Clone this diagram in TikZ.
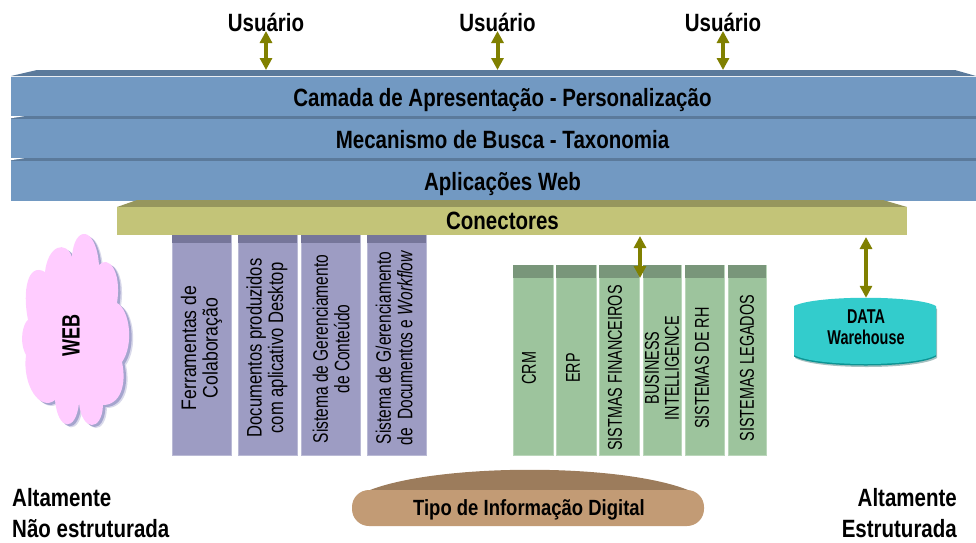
\documentclass[tikz,border=0pt]{standalone}
\usepackage{fontspec}
\setmainfont{Liberation Sans}
\newfontfamily\nfa[FakeStretch=0.82]{Liberation Sans}
\newfontfamily\nfc[FakeStretch=0.72]{Liberation Sans}
\newfontfamily\nfd[FakeStretch=0.84]{Liberation Sans}
\newfontfamily\nfe[FakeStretch=0.79]{Liberation Sans}
\newfontfamily\nff[FakeStretch=0.74]{Liberation Sans}
\usetikzlibrary{arrows.meta}
\definecolor{bluebody}{HTML}{7299C2}
\definecolor{bluetop}{HTML}{5B7A9B}
\definecolor{oliveA}{HTML}{C3C478}
\definecolor{oliveB}{HTML}{96965D}
\definecolor{purpA}{HTML}{9D9CC3}
\definecolor{purpB}{HTML}{76769A}
\definecolor{greenA}{HTML}{9DC49D}
\definecolor{greenB}{HTML}{79967A}
\definecolor{tealA}{HTML}{33CCCC}
\definecolor{brownA}{HTML}{C29B75}
\definecolor{brownB}{HTML}{9C7C5C}
\definecolor{arrowc}{HTML}{808000}
\definecolor{cloudc}{HTML}{FFCCFF}
\tikzset{
  big/.style={font=\fontsize{25}{28}\selectfont\nfa\bfseries,text=black,inner sep=0pt,anchor=base},
  bluebar/.style={fill=bluebody,minimum width=965pt,minimum height=40pt,inner sep=0pt},
  vbar/.style={inner sep=0pt,align=center,rotate=90},
  gbar/.style={inner sep=0pt,font=\fontsize{20}{20}\selectfont\nfc,align=center,rotate=90},
  purple/.style={fill=purpA,draw=purpA!70!white,line width=0.6pt},
  greenb/.style={fill=greenA,draw=greenA!70!white,line width=0.6pt},
  link/.style={draw=arrowc,line width=4pt,{Triangle[width=12pt,length=12pt,fill=arrowc]}-{Triangle[width=12pt,length=12pt,fill=arrowc]}},
}
\def\cloudpath{(99,265) .. controls (108,255) and (122,270) .. (117,303)
  .. controls (130,310) and (134,345) .. (122,362)
  .. controls (127,385) and (120,405) .. (103,405)
  .. controls (102,432) and (82,432) .. (79,403)
  .. controls (76,432) and (58,432) .. (55,400)
  .. controls (40,412) and (22,385) .. (26,355)
  .. controls (18,340) and (24,322) .. (28,320)
  .. controls (22,290) and (28,262) .. (45,272)
  .. controls (48,245) and (66,240) .. (72,257)
  .. controls (74,225) and (96,225) .. (99,265) -- cycle}
\def\dwpath{(794,306) .. controls (815,295) and (917,295) .. (936,306) -- (936,355) .. controls (917,367) and (815,367) .. (794,355) -- cycle}
\begin{document}
\begin{tikzpicture}[x=1pt,y=-1pt]
\useasboundingbox (0,0) rectangle (976,542);
% blue stack
\fill[bluetop] (11,76) -- (37,70) -- (955,70) -- (976,76) -- cycle;
\node[bluebar] (cam) at (493.5,96.5) {};
\fill[bluetop] (11,116) rectangle (976,118.5);
\fill[white] (11,116.2) -- (24,116.2) -- (11,118.2) -- cycle;
\node[bluebar] (busca) at (493.5,138.5) {};
\fill[bluetop] (11,158) rectangle (976,160.5);
\fill[white] (11,158.2) -- (24,158.2) -- (11,160.2) -- cycle;
\node[bluebar] (apl) at (493.5,180.5) {};
\node[big] at (502.5,106) (camt) {Camada de Apresentação - Personalização};
\node[big] at (502.5,148) (buscat) {Mecanismo de Busca - Taxonomia};
\node[big] at (502.5,190) (aplt) {Aplicações Web};
\coordinate (camtop) at (266,70);
% connectors bar
\fill[oliveB] (117,207) -- (137,200) -- (883,200) -- (907,207) -- cycle;
\node[fill=oliveA,minimum width=790pt,minimum height=28pt,inner sep=0pt] (con) at (512,221) {};
\node[big] (cont) at (502.5,229) {Conectores};
% purple bars
\foreach \a/\b in {172/231,238/297,301/360,367/426}{
  \path[purple] (\a,235) rectangle (\b,455);
  \fill[purpB] (\a,235) rectangle (\b,243);
}
\node[vbar,font=\fontsize{21}{21.5}\selectfont\nfd] (p1) at (201.5,348) {Ferramentas de\\Colaboração};
\node[vbar,font=\fontsize{21}{21.5}\selectfont\nfe] (p2) at (267,348) {Documentos produzidos\\com aplicativo Desktop};
\node[vbar,font=\fontsize{21}{21.5}\selectfont\nff] (p3) at (331,349) {Sistema de Gerenciamento\\de Conteúdo};
\node[vbar,font=\fontsize{21}{21.5}\selectfont\nff] (p4) at (394,348) {Sistema de G/erenciamento\\de~ Documentos e \textit{Workflow}};
% green bars
\foreach \a/\b in {513/553,556/596,599/639,643/681,685/724,728/766}{
  \path[greenb] (\a,265) rectangle (\b,455);
  \fill[greenB] (\a,265) rectangle (\b,278);
}
\node[gbar] (g1) at (529,368) {CRM};
\node[gbar] (g2) at (573,368) {ERP};
\node[gbar] (g3) at (615,368) {SISTMAS FINANCEIROS};
\node[gbar] (g4) at (662,368) {BUSINESS\\INTELLIGENCE};
\node[gbar] (g5) at (702,368) {SISTEMAS DE RH};
\node[gbar] (g6) at (747,368) {SISTEMAS LEGADOS};
% cloud
\fill[black!55!blue!60!white,opacity=.25,shift={(4,3)}] \cloudpath;
\fill[black!55!blue!60!white,opacity=.45,shift={(2.5,2)}] \cloudpath;
\fill[cloudc] \cloudpath;
\node[inner sep=0pt,rotate=90,font=\fontsize{25}{28}\selectfont\nfc\bfseries] (web) at (71,335) {WEB};
% data warehouse
\fill[teal!60!black,opacity=.35,shift={(1,3)}] \dwpath;
\fill[teal!75!tealA,shift={(0,1.5)}] \dwpath;
\fill[tealA] \dwpath;
\node[inner sep=0pt,minimum height=58pt,align=center,font=\fontsize{20}{21}\selectfont\nfc\bfseries] (dw) at (866,327) {DATA\\Warehouse};
% digital information type
\fill[brownB] (370,490) .. controls (440,463) and (620,463) .. (688,490) -- cycle;
\node[fill=brownA,rounded corners=17pt,minimum width=352pt,minimum height=36pt,inner sep=0pt] (tipobar) at (528,508) {};
\node[inner sep=0pt,anchor=base,font=\fontsize{22}{24}\selectfont\nfd\bfseries] (tipo) at (529,515) {Tipo de Informação Digital};
% side labels
\node[big,anchor=base west] (a1) at (12,506) {Altamente};
\node[big,anchor=base west] (a2) at (12,537.5) {Não estruturada};
\node[big,anchor=base east] (a3) at (957,506) {Altamente};
\node[big,anchor=base east] (a4) at (957,537.5) {Estruturada};
% users
\node[big] (u1) at (266,31) {Usuário};
\node[big] (u2) at (497.5,31) {Usuário};
\node[big] (u3) at (723,31) {Usuário};
\draw[link] (u1.base) -- (u1.base |- camtop);
\draw[link] (u2.base) -- (u2.base |- camtop);
\draw[link] (u3.base) -- (u3.base |- camtop);
\coordinate (g3top) at (640,236);
\coordinate (g3bot) at (640,278);
\draw[link] (g3top) -- (g3bot);
\coordinate (dwtop) at (866,237);
\draw[link] (dwtop) -- (dw.north);
\end{tikzpicture}
\end{document}
